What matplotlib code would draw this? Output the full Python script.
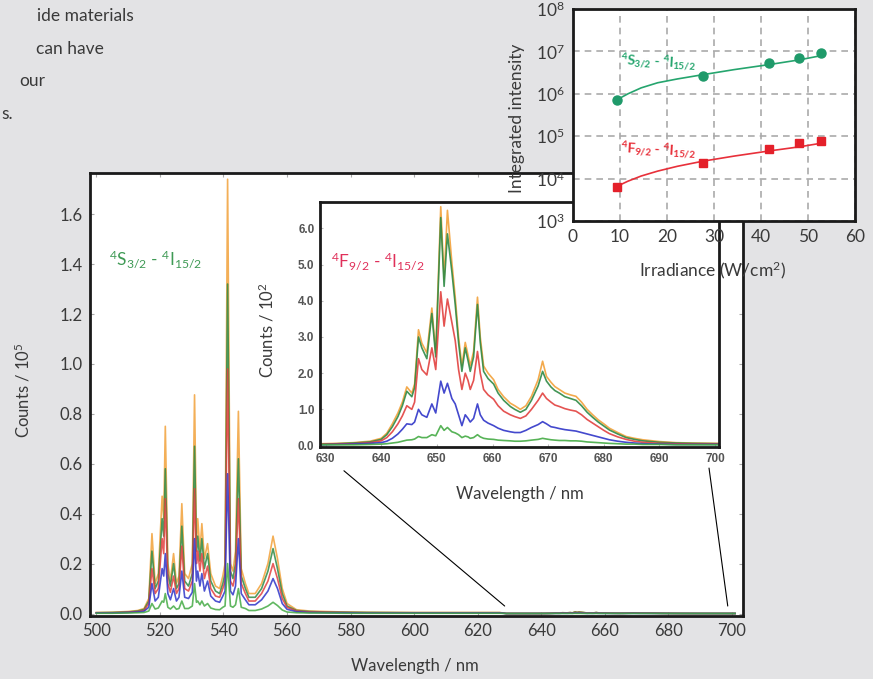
import matplotlib
matplotlib.use("Agg")
import matplotlib.pyplot as plt
import numpy as np
from matplotlib.patches import ConnectionPatch
from matplotlib.ticker import FixedLocator, NullLocator

plt.rcParams["font.family"] = ["Lato", "DejaVu Sans"]
plt.rcParams["mathtext.fontset"] = "custom"
plt.rcParams["mathtext.rm"] = "Lato"
plt.rcParams["mathtext.it"] = "Lato:italic"
plt.rcParams["mathtext.bf"] = "Lato:bold"

# ---- green band (4S3/2 / 2H11/2 -> 4I15/2), counts / 1e5, 5 irradiances ----
wl_green = [500, 505, 510, 513, 515, 516.5, 517.5, 518.5, 519.5, 520.7, 521.2, 521.7,
            522.5, 523.3, 524.3, 525.2, 526.0, 526.9, 527.8, 529.0, 530.2, 530.9,
            531.5, 531.9, 532.6, 533.2, 534.0, 535.0, 536.0, 537.5, 538.8, 539.8,
            540.5, 541.3, 542.2, 543.0, 543.8, 544.7, 545.6, 546.9, 548.0, 550.0,
            552.0, 554.0, 555.6, 557.0, 558.5, 560.0, 563.0, 567.0, 572.0, 578.0,
            585.0, 600.0, 615.0, 627.0]
green_orange = [0.004, 0.005, 0.008, 0.012, 0.02, 0.06, 0.32, 0.12, 0.16, 0.47, 0.38, 0.75,
                0.20, 0.13, 0.24, 0.12, 0.15, 0.44, 0.16, 0.14, 0.20, 0.876,
                0.30, 0.38, 0.25, 0.36, 0.22, 0.28, 0.16, 0.11, 0.10, 0.15,
                0.20, 1.74, 0.20, 0.17, 0.25, 0.81, 0.18, 0.12, 0.08, 0.08,
                0.12, 0.20, 0.31, 0.22, 0.10, 0.04, 0.015, 0.010, 0.008, 0.006,
                0.005, 0.004, 0.004, 0.004]
green_dkgreen = [0.003, 0.004, 0.006, 0.010, 0.016, 0.05, 0.25, 0.10, 0.13, 0.38, 0.31, 0.58,
                 0.16, 0.11, 0.20, 0.10, 0.12, 0.35, 0.13, 0.11, 0.16, 0.67,
                 0.25, 0.31, 0.21, 0.30, 0.18, 0.24, 0.13, 0.09, 0.08, 0.12,
                 0.16, 1.32, 0.17, 0.14, 0.20, 0.62, 0.15, 0.10, 0.065, 0.065,
                 0.10, 0.17, 0.26, 0.18, 0.08, 0.03, 0.012, 0.008, 0.006, 0.005,
                 0.004, 0.003, 0.003, 0.003]
green_red = [0.003, 0.003, 0.005, 0.008, 0.012, 0.04, 0.18, 0.08, 0.10, 0.30, 0.24, 0.46,
             0.12, 0.085, 0.15, 0.08, 0.10, 0.27, 0.10, 0.09, 0.13, 0.50,
             0.20, 0.25, 0.17, 0.24, 0.14, 0.19, 0.10, 0.07, 0.065, 0.10,
             0.13, 0.98, 0.13, 0.11, 0.16, 0.46, 0.12, 0.08, 0.05, 0.05,
             0.08, 0.13, 0.20, 0.14, 0.06, 0.025, 0.010, 0.006, 0.005, 0.004,
             0.003, 0.003, 0.003, 0.003]
green_blue = [0.002, 0.002, 0.004, 0.006, 0.009, 0.025, 0.12, 0.05, 0.065, 0.18, 0.15, 0.24,
              0.08, 0.055, 0.10, 0.05, 0.065, 0.17, 0.065, 0.06, 0.085, 0.30,
              0.13, 0.17, 0.11, 0.16, 0.09, 0.13, 0.07, 0.05, 0.045, 0.07,
              0.09, 0.56, 0.09, 0.075, 0.11, 0.30, 0.08, 0.055, 0.035, 0.035,
              0.055, 0.09, 0.14, 0.10, 0.04, 0.017, 0.007, 0.004, 0.003, 0.003,
              0.002, 0.002, 0.002, 0.002]
green_ltgreen = [0.001, 0.001, 0.002, 0.003, 0.004, 0.01, 0.04, 0.018, 0.022, 0.05, 0.045, 0.08,
                 0.025, 0.018, 0.03, 0.017, 0.02, 0.05, 0.02, 0.02, 0.03, 0.12,
                 0.045, 0.05, 0.035, 0.05, 0.03, 0.04, 0.022, 0.016, 0.015, 0.025,
                 0.03, 0.20, 0.03, 0.025, 0.035, 0.10, 0.025, 0.02, 0.012, 0.012,
                 0.018, 0.03, 0.045, 0.032, 0.014, 0.006, 0.003, 0.002, 0.002, 0.001,
                 0.001, 0.001, 0.001, 0.001]

# ---- red band (4F9/2 -> 4I15/2), counts / 1e2 ----
wl_red = [629, 632, 635, 638, 640, 641, 642, 643, 643.8, 644.6, 645.5, 646.0, 646.7,
          647.3, 648.2, 649.1, 649.8, 650.7, 651.3, 651.9, 652.7, 653.3, 653.9, 654.5,
          655.1, 655.6, 656.0, 656.6, 657.3, 657.8, 658.4, 659.2, 660.2, 661, 662,
          663.2, 664, 665, 666, 667, 668.2, 669, 669.7, 670.5, 671.2, 672, 673, 674,
          675, 676, 677, 678, 679, 680, 681, 682.5, 684, 685.5, 687, 690, 693, 696, 701]
red_orange = [0.05, 0.06, 0.08, 0.12, 0.2, 0.34, 0.6, 0.9, 1.2, 1.62, 1.45, 1.7, 3.2,
              2.83, 2.56, 3.8, 2.56, 6.6, 4.6, 6.5, 5.05, 4.1, 3.0, 2.2,
              2.85, 2.5, 2.2, 2.6, 4.1, 3.0, 2.2, 2.0, 1.82, 1.55, 1.35,
              1.17, 1.1, 1.0, 1.1, 1.36, 1.82, 2.33, 1.91, 1.75, 1.63, 1.55, 1.45, 1.4,
              1.36, 1.2, 1.0, 0.85, 0.71, 0.6, 0.48, 0.36, 0.25, 0.2, 0.16, 0.11, 0.08, 0.07, 0.06]
red_dkgreen = [0.04, 0.05, 0.07, 0.1, 0.17, 0.3, 0.52, 0.8, 1.1, 1.5, 1.35, 1.6, 3.0,
               2.7, 2.4, 3.65, 2.45, 6.3, 4.4, 5.85, 4.8, 3.9, 2.85, 2.05,
               2.7, 2.35, 2.05, 2.45, 3.9, 2.85, 2.05, 1.85, 1.7, 1.45, 1.25,
               1.08, 1.0, 0.92, 1.0, 1.25, 1.65, 2.05, 1.78, 1.62, 1.52, 1.45, 1.35, 1.3,
               1.25, 1.1, 0.92, 0.78, 0.65, 0.54, 0.43, 0.32, 0.22, 0.17, 0.13, 0.09, 0.07, 0.06, 0.05]
red_red = [0.03, 0.04, 0.05, 0.08, 0.13, 0.22, 0.38, 0.6, 0.82, 1.1, 1.0, 1.2, 2.4,
           2.1, 1.95, 2.7, 2.1, 4.25, 3.3, 4.05, 3.4, 2.9, 2.1, 1.55,
           2.0, 1.8, 1.55, 1.8, 2.6, 2.0, 1.55, 1.4, 1.28, 1.1, 0.95,
           0.85, 0.8, 0.75, 0.82, 1.0, 1.25, 1.45, 1.3, 1.2, 1.12, 1.08, 1.02, 0.98,
           0.95, 0.85, 0.72, 0.62, 0.52, 0.42, 0.33, 0.24, 0.17, 0.12, 0.09, 0.06, 0.05, 0.04, 0.04]
red_blue = [0.02, 0.03, 0.04, 0.06, 0.08, 0.12, 0.2, 0.32, 0.45, 0.6, 0.58, 0.65, 1.0,
            0.85, 0.78, 1.15, 0.9, 1.78, 1.45, 1.72, 1.3, 1.15, 0.85, 0.55,
            0.85, 0.75, 0.65, 0.75, 1.15, 0.85, 0.7, 0.62, 0.55, 0.48, 0.42,
            0.38, 0.36, 0.36, 0.42, 0.5, 0.58, 0.66, 0.6, 0.52, 0.5, 0.47, 0.44, 0.42,
            0.4, 0.36, 0.32, 0.28, 0.24, 0.2, 0.16, 0.12, 0.09, 0.07, 0.05, 0.04, 0.03, 0.03, 0.03]
red_ltgreen = [0.02, 0.02, 0.02, 0.03, 0.04, 0.05, 0.07, 0.09, 0.12, 0.15, 0.16, 0.18, 0.25,
               0.22, 0.22, 0.3, 0.27, 0.55, 0.42, 0.5, 0.38, 0.35, 0.3, 0.22,
               0.26, 0.24, 0.2, 0.22, 0.3, 0.24, 0.2, 0.18, 0.17, 0.15, 0.14,
               0.13, 0.12, 0.12, 0.13, 0.15, 0.17, 0.2, 0.18, 0.16, 0.15, 0.14, 0.14, 0.13,
               0.13, 0.12, 0.1, 0.09, 0.08, 0.07, 0.06, 0.05, 0.04, 0.04, 0.03, 0.03, 0.02, 0.02, 0.02]

# ---- integrated intensity vs irradiance ----
irr = [9.4, 27.6, 41.8, 48.1, 52.7]
int_green = [7.3e5, 2.7e6, 5.4e6, 7.0e6, 9.3e6]
int_red = [6.3e3, 2.3e4, 5.1e4, 7.0e4, 7.6e4]
fit_x = [9.4, 11.7, 14.5, 18.0, 22.2, 27.6, 34.3, 41.8, 48.1, 52.7]
fit_green = [7.3e5, 1.0e6, 1.38e6, 1.82e6, 2.24e6, 2.82e6, 3.72e6, 4.9e6, 6.3e6, 7.9e6]
fit_red = [6.6e3, 8.7e3, 1.15e4, 1.5e4, 1.95e4, 2.57e4, 3.4e4, 4.5e4, 5.6e4, 6.8e4]

series_colors = ["#f2a13a", "#2f8a45", "#e2413f", "#2f35c8", "#45ab45"]
green_sets = [green_orange, green_dkgreen, green_red, green_blue, green_ltgreen]
red_sets = [red_orange, red_dkgreen, red_red, red_blue, red_ltgreen]

TXT = "#3a3a3a"
fig = plt.figure(figsize=(8.73, 6.79), dpi=100)
fig.patch.set_facecolor("#e3e3e5")

# body text running in from the left of the page
for s, x, y in [("ide materials", 37, 16), ("can have", 36, 49),
                ("our", 19, 81), ("s.", 1, 114)]:
    fig.text(x / 873, 1 - y / 679, s, fontsize=12.5, color=TXT, va="center", ha="left")

# ---- main spectrum ----
ax = fig.add_axes([90 / 873, 1 - 616 / 679, 653 / 873, 443 / 679], zorder=1)
ax.set_facecolor("white")
wl_all = np.concatenate([wl_green, wl_red])
for gs, rs, c in zip(green_sets, red_sets, series_colors):
    y = np.concatenate([gs, np.array(rs) * 1e-3])  # 1e2 counts -> 1e5 counts
    ax.plot(wl_all, y, color=c, lw=1.2, alpha=0.85)
ax.set_xlim(498, 703.5)
ax.set_ylim(-0.01, 1.765)
ax.set_xticks(np.arange(500, 701, 20))
ax.set_yticks(np.arange(0, 1.61, 0.2))
ax.set_yticklabels([f"{v:.1f}" for v in np.arange(0, 1.61, 0.2)])
ax.tick_params(direction="in", length=3, color="#aaaaaa", labelsize=12,
               labelcolor=TXT, top=True, right=True, pad=5)
for sp in ax.spines.values():
    sp.set_linewidth(2)
    sp.set_color("#1a1a1a")
ax.set_xlabel("Wavelength / nm", fontsize=12, color=TXT)
ax.xaxis.set_label_coords(0.498, -0.095)
ax.set_ylabel("Counts / 10$^5$", fontsize=12, color=TXT)
ax.yaxis.set_label_coords(-0.088, 0.51)
ax.text(504, 1.42, "$^4$S$_{3/2}$ - $^4$I$_{15/2}$", color="#3f9a55", fontsize=12.5,
        va="center", ha="left")

# ---- red band inset ----
ax2 = fig.add_axes([320 / 873, 1 - 447 / 679, 399 / 873, 245 / 679], zorder=2)
ax2.set_facecolor("white")
for rs, c in zip(red_sets, series_colors):
    ax2.plot(wl_red, rs, color=c, lw=1.2, alpha=0.9)
ax2.set_xlim(629, 700.7)
ax2.set_ylim(-0.04, 6.73)
ax2.set_xticks(np.arange(630, 701, 10))
ax2.set_yticks(np.arange(0, 6.1, 1))
ax2.set_yticklabels([f"{v:.1f}" for v in np.arange(0, 6.1, 1)])
ax2.tick_params(direction="in", length=2, color="#bbbbbb", labelsize=8.5,
                labelcolor="#555555", pad=4)
for lab in ax2.get_xticklabels() + ax2.get_yticklabels():
    lab.set_family(["Liberation Sans", "DejaVu Sans"])
    lab.set_fontweight("bold")
for sp in ax2.spines.values():
    sp.set_linewidth(2)
    sp.set_color("#1a1a1a")
ax2.set_xlabel("Wavelength / nm", fontsize=12, color=TXT)
ax2.xaxis.set_label_coords(0.5, -0.16)
ax2.set_ylabel("Counts / 10$^2$", fontsize=12, color=TXT)
ax2.yaxis.set_label_coords(-0.108, 0.478)
ax2.text(631, 5.1, "$^4$F$_{9/2}$ - $^4$I$_{15/2}$", color="#e0305a", fontsize=12.5,
         va="center", ha="left")

# zoom lines from main axis to the inset
for xa, xb, yb in [(628.5, 0.06, -0.097), (698.7, 0.975, -0.086)]:
    con = ConnectionPatch(xyA=(xa, 0.03), coordsA="data", axesA=ax,
                          xyB=(xb, yb), coordsB="axes fraction", axesB=ax2,
                          color="black", lw=0.8, zorder=2.5)
    fig.add_artist(con)

# ---- integrated intensity inset ----
ax3 = fig.add_axes([573 / 873, 1 - 221 / 679, 282 / 873, 212 / 679], zorder=3)
ax3.set_facecolor("white")
ax3.set_yscale("log")
ax3.set_xlim(0, 60)
ax3.set_ylim(1e3, 1e8)
ax3.set_xticks(np.arange(0, 61, 10))
ax3.yaxis.set_major_locator(FixedLocator([1e3, 1e4, 1e5, 1e6, 1e7, 1e8]))
ax3.yaxis.set_minor_locator(NullLocator())
ax3.grid(True, color="#aaaaaa", ls=(0, (4, 3)), lw=1.2)
ax3.tick_params(length=0, labelsize=12.5, labelcolor=TXT, pad=6)
for sp in ax3.spines.values():
    sp.set_linewidth(2)
    sp.set_color("#1a1a1a")
ax3.plot(fit_x, fit_green, color="#25a56e", lw=1.2)
ax3.plot(irr, int_green, "o", color="#1f9a6a", ms=6.5)
ax3.plot(fit_x, fit_red, color="#e8303a", lw=1.2)
ax3.plot(irr, int_red, "s", color="#e4202a", ms=5.5)
ax3.text(10, 5.4e6, r"$\mathbf{^4S_{3/2}}$ - $\mathbf{^4I_{15/2}}$", color="#25a56e",
         fontsize=10, fontweight="bold", va="center", ha="left", rotation=-3)
ax3.text(10, 4.5e4, r"$\mathbf{^4F_{9/2}}$ - $\mathbf{^4I_{15/2}}$", color="#e8303a",
         fontsize=10, fontweight="bold", va="center", ha="left", rotation=-3)
ax3.set_ylabel("Integrated intensity", fontsize=12.5, color=TXT)
ax3.yaxis.set_label_coords(-0.17, 0.486)
ax3.set_xlabel("Irradiance (W/cm$^2$)", fontsize=12.5, color=TXT)
ax3.xaxis.set_label_coords(0.496, -0.18)

fig.savefig("out.png", dpi=100, facecolor=fig.get_facecolor())
